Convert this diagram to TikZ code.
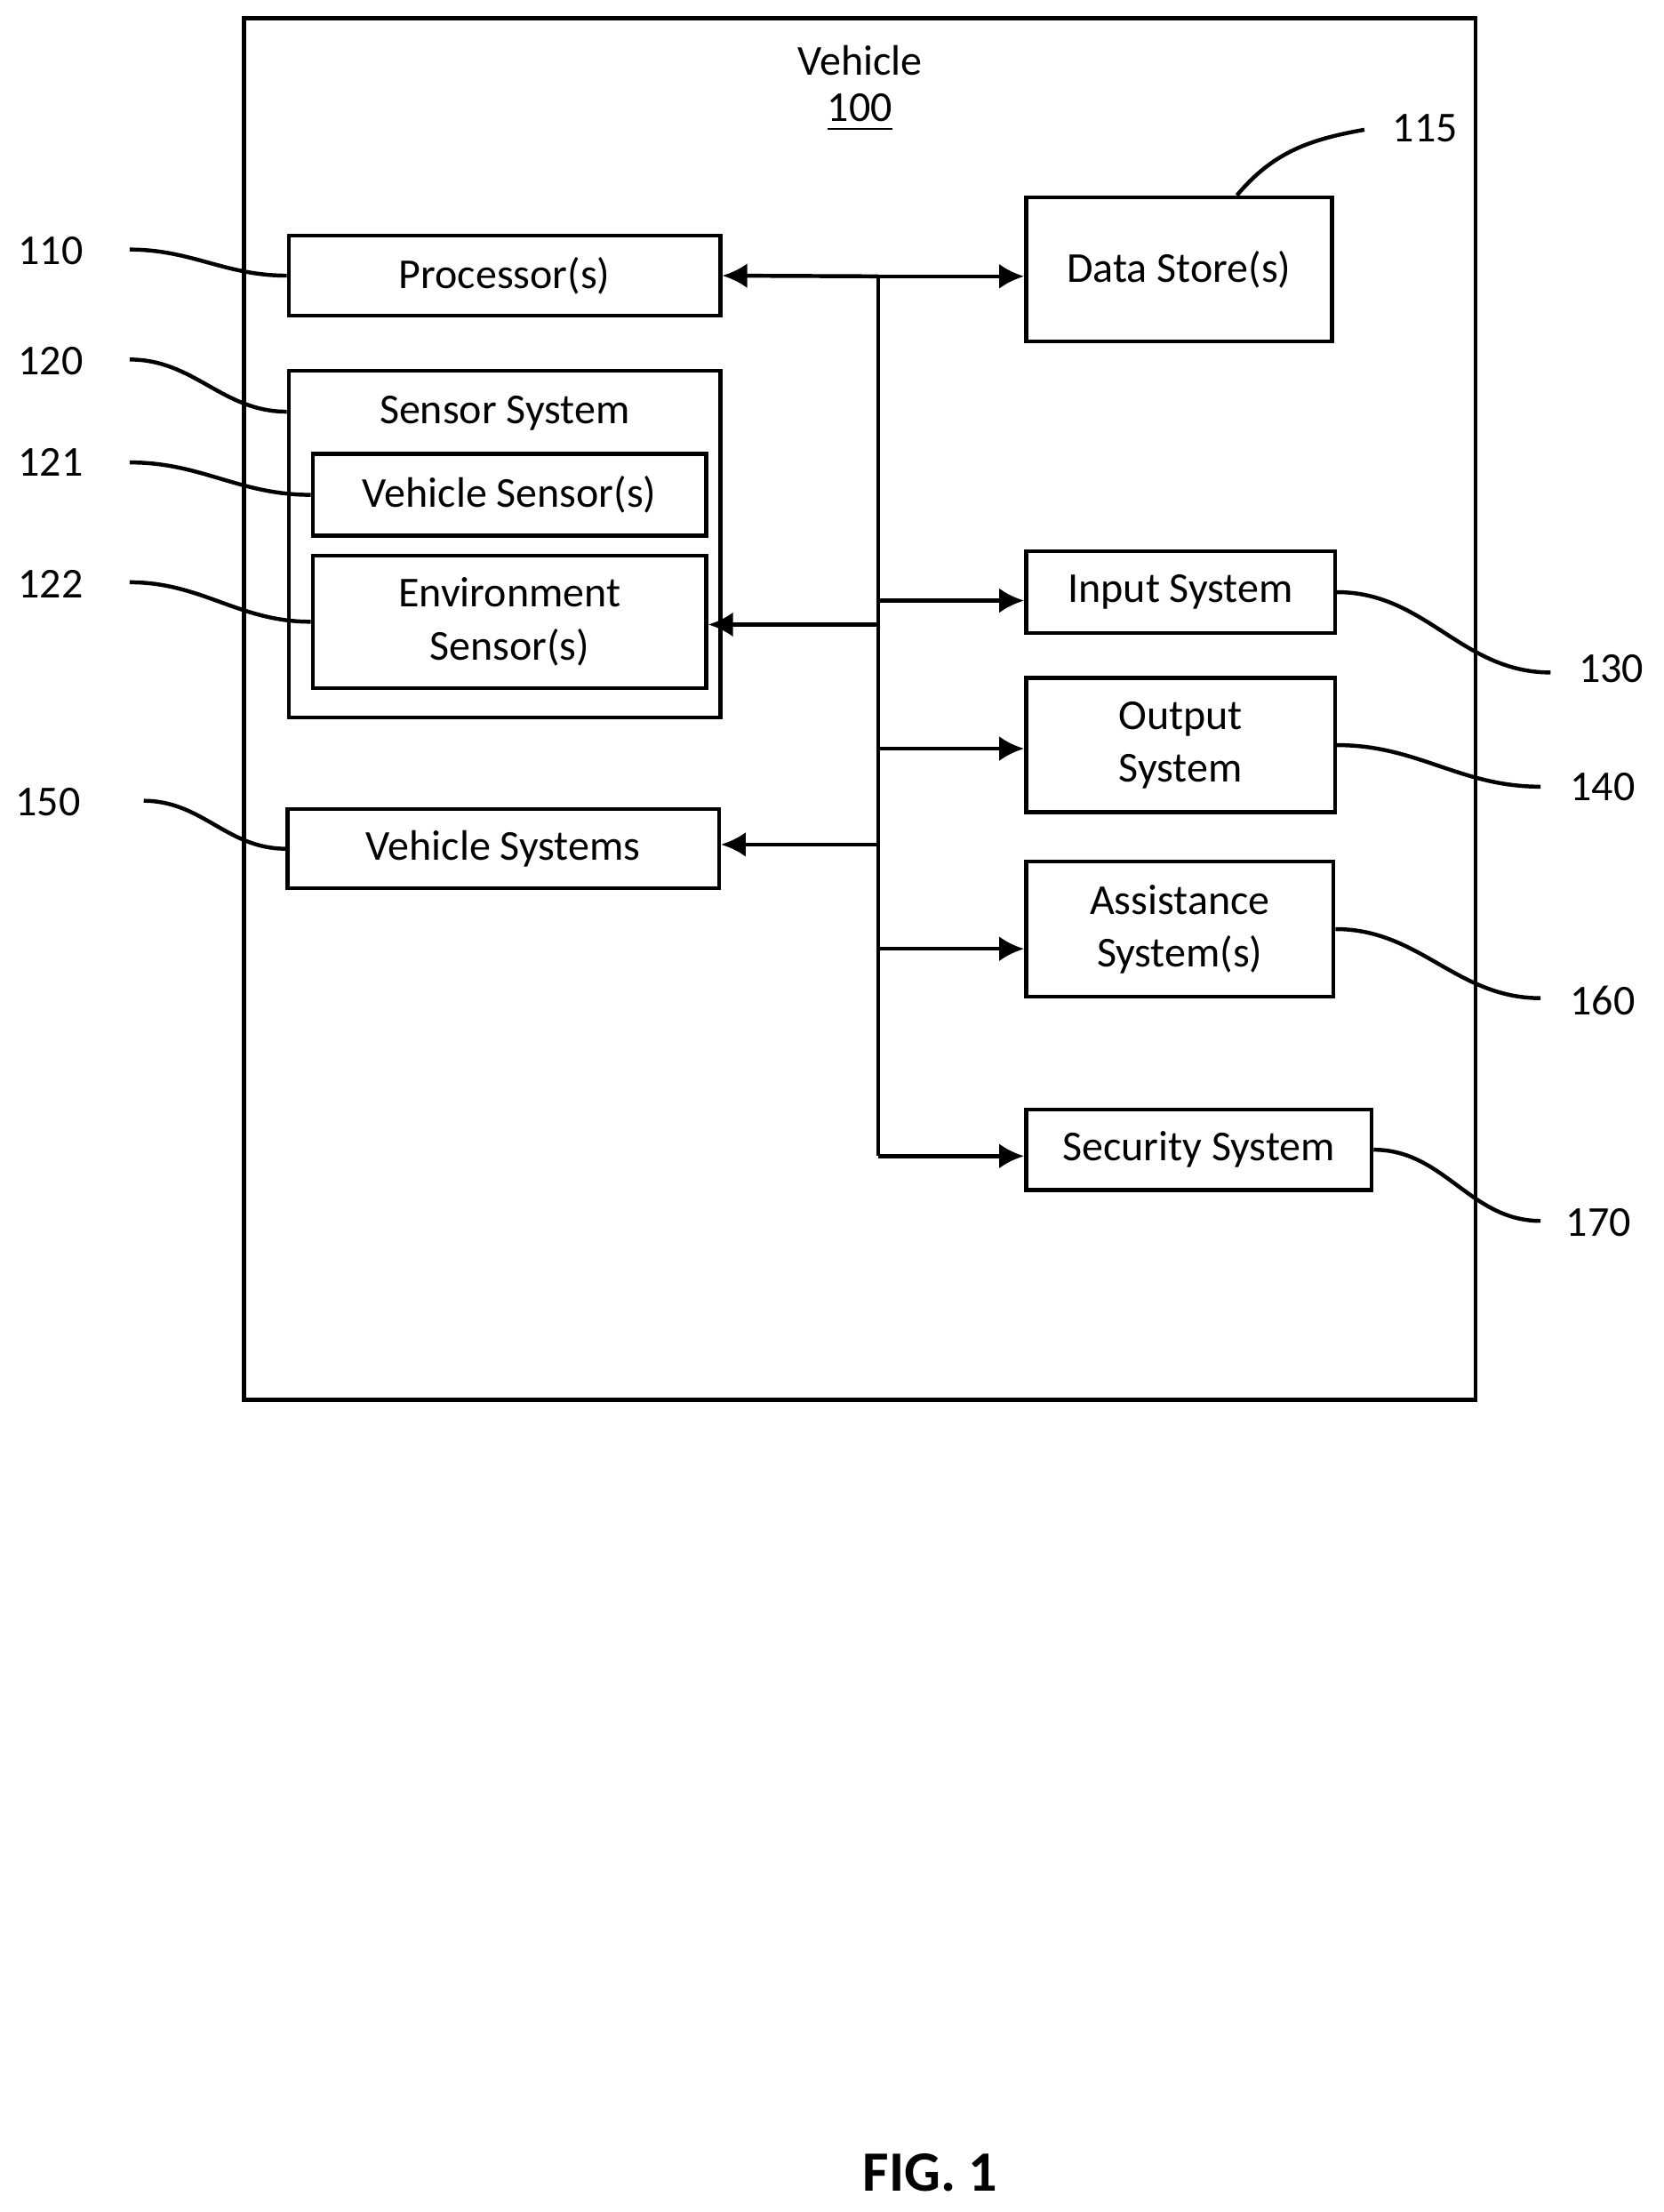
\documentclass[tikz,border=0pt]{standalone}
\usepackage{fontspec}
\setmainfont{Carlito}
\usetikzlibrary{arrows.meta}
\tikzset{blk/.style={draw,thick,inner sep=0pt,align=center,font=\fontsize{8.6}{10.6}\selectfont},
ref/.style={font=\fontsize{8.6}{10}\selectfont},
lead/.style={thick,out=0,in=180},
bus/.style={thick,-{Latex[length=5pt,width=5pt]}}}
\begin{document}
\begin{tikzpicture}[x=0.01cm,y=-0.01cm]
\useasboundingbox (0,0) rectangle (1180,1569);
\draw[thick] (173,13) rectangle (1047,993); %vehicle
\node[font=\fontsize{8.6}{10}\selectfont] (veh) at (610,43) {Vehicle};
\node[font=\fontsize{8.6}{10}\selectfont] (vehno) at (610,80) {\underline{100}};

\node[blk,minimum width=3.06cm,minimum height=0.57cm] (proc) at (358,195.5) {Processor(s)};
\node[blk,minimum width=2.17cm,minimum height=1.02cm] (store) at (836.5,191) {Data Store(s)};
\node[blk,minimum width=3.06cm,minimum height=2.46cm] (sens) at (358,386) {};
\node[font=\fontsize{8.6}{10}\selectfont] (senst) at (358,293) {Sensor System};
\node[blk,minimum width=2.79cm,minimum height=0.58cm] (vsens) at (361.5,351) {Vehicle Sensor(s)};
\node[blk,minimum width=2.79cm,minimum height=0.94cm] (esens) at (361.5,441) {Environment\\Sensor(s)};
\node[blk,minimum width=2.19cm,minimum height=0.58cm] (inp) at (837.5,420) {Input System};
\node[blk,minimum width=2.19cm,minimum height=0.95cm] (outp) at (837.5,528.5) {Output\\System};
\node[blk,minimum width=2.18cm,minimum height=0.96cm] (assist) at (837,659) {Assistance\\System(s)};
\node[blk,minimum width=2.45cm,minimum height=0.57cm] (secur) at (850.5,815.5) {Security System};
\node[blk,minimum width=3.06cm,minimum height=0.56cm] (vsys) at (357,602) {Vehicle Systems};

% bus
\coordinate (btop) at (623,196);
\coordinate (bbot) at (623,820);
\draw[thick] (btop) -- (bbot);
\draw[bus] (btop) -- (proc.east);
\draw[bus] (btop) -- (store.west |- btop);
\draw[bus] (623,443) -- (esens.east |- 0,443);
\draw[bus] (623,426) -- (inp.west |- 0,426);
\draw[bus] (623,531) -- (outp.west |- 0,531);
\draw[bus] (623,599) -- (vsys.east |- 0,599);
\draw[bus] (623,673) -- (assist.west |- 0,673);
\draw[bus] (bbot) -- (secur.west |- bbot);

% reference numerals
\node[ref] (n110) at (36,178) {110};
\node[ref] (n120) at (36,256) {120};
\node[ref] (n121) at (36,328) {121};
\node[ref] (n122) at (36,414) {122};
\node[ref] (n150) at (34,569) {150};
\node[ref] (n115) at (1011,91) {115};
\node[ref] (n130) at (1143,474) {130};
\node[ref] (n140) at (1137,558) {140};
\node[ref] (n160) at (1137,710) {160};
\node[ref] (n170) at (1134,867) {170};
\coordinate (c110) at (92,177);
\coordinate (c120) at (92,255);
\coordinate (c121) at (92,328);
\coordinate (c122) at (92,413);
\coordinate (c150) at (102,568);
\coordinate (c115) at (968,92);
\coordinate (c130) at (1100,477);
\coordinate (c140) at (1093,558);
\coordinate (c160) at (1093,708);
\coordinate (c170) at (1093,866);
\draw[lead] (c110) to (proc.west);
\draw[lead] (c120) to (sens.west |- 0,292);
\draw[lead] (c121) to (vsens.west);
\draw[lead] (c122) to (esens.west);
\draw[lead] (c150) to (vsys.west);
\draw[thick] (store.north) ++(41,0) coordinate (s115) to[out=50,in=190] (c115);
\draw[lead] (inp.east) to (c130);
\draw[lead] (outp.east) to (c140);
\draw[lead] (assist.east) to (c160);
\draw[lead] (secur.east) to (c170);

\node[font=\fontsize{11.5}{13}\selectfont\bfseries] (fig) at (660,1541) {FIG. 1};
\end{tikzpicture}
\end{document}
